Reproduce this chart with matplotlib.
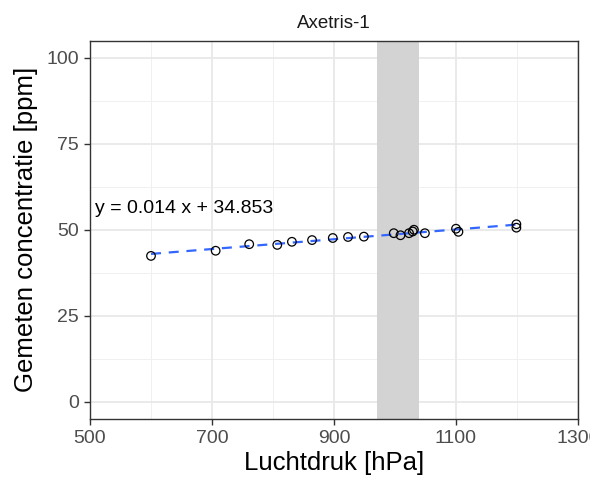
import numpy as np
import matplotlib
matplotlib.use("Agg")
import matplotlib.pyplot as plt

plt.rcParams['font.family'] = ['Liberation Sans', 'DejaVu Sans']

# data
pressure = [600, 706, 761, 807, 831, 864, 898, 923, 949, 998, 1009, 1023,
            1029, 1031, 1049, 1100, 1104, 1199, 1199]
conc = [42.4, 43.9, 45.8, 45.6, 46.5, 47.0, 47.6, 47.9, 48.0, 49.0, 48.4, 49.0,
        49.5, 50.0, 49.0, 50.3, 49.4, 51.6, 50.6]
band = (970, 1040)
eq_label = "y = 0.014 x + 34.853"
title = "Axetris-1"
x_ticks = [500, 700, 900, 1100, 1300]
y_ticks = [0, 25, 50, 75, 100]

fig = plt.figure(figsize=(5.9, 4.79), dpi=100)
ax = fig.add_axes([90 / 590, 1 - 419 / 479, 488 / 590, 378.5 / 479])

ax.set_xlim(500, 1300)
ax.set_ylim(-5, 105)

# grid (ggplot theme_bw look)
for v in [600, 800, 1000, 1200]:
    ax.axvline(v, color='#F0F0F0', lw=0.7, zorder=0)
for v in [12.5, 37.5, 62.5, 87.5]:
    ax.axhline(v, color='#F0F0F0', lw=0.7, zorder=0)
for v in x_ticks:
    ax.axvline(v, color='#E8E8E8', lw=1.3, zorder=0)
for v in y_ticks:
    ax.axhline(v, color='#E8E8E8', lw=1.3, zorder=0)

ax.axvspan(band[0], band[1], color='#D3D3D3', lw=0, zorder=1)

xs = np.array(pressure, dtype=float)
ys = np.array(conc, dtype=float)
k, b = np.polyfit(xs, ys, 1)
xl = np.array([xs.min(), xs.max()])
ax.plot(xl, k * xl + b, color='#3366FF', lw=1.6, ls=(0, (4.5, 3.5)), zorder=3)

ax.scatter(xs, ys, s=38, facecolors='none', edgecolors='black', linewidths=0.9, zorder=4)

ax.text(508, 56.3, eq_label, fontsize=14, color='black', ha='left', va='center', zorder=5)

ax.set_xticks(x_ticks)
ax.set_yticks(y_ticks)
ax.tick_params(axis='both', labelsize=14, labelcolor='#4D4D4D', color='#333333',
               length=4.5, width=1)
for s in ax.spines.values():
    s.set_color('#333333')
    s.set_linewidth(1.0)

ax.set_xlabel("Luchtdruk [hPa]", fontsize=18.5, labelpad=3)
ax.set_ylabel("Gemeten concentratie [ppm]", fontsize=18.5, labelpad=6)
ax.set_title(title, fontsize=13.5, color='#1A1A1A', pad=9)

fig.savefig("out.png", dpi=100)
